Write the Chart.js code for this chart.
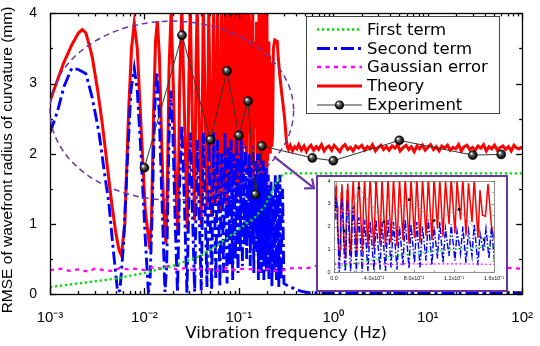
<!DOCTYPE html>
<html><head><meta charset="utf-8">
<script src="https://cdn.jsdelivr.net/npm/chart.js@4.4.1/dist/chart.umd.min.js"></script>
<style>
html,body{margin:0;padding:0;background:#fff;}
#wrap{position:relative;width:540px;height:346px;overflow:hidden;}
#main{position:absolute;left:0;top:0;}
#insetBox{position:absolute;left:316px;top:175px;width:192px;height:117px;box-sizing:border-box;border:2px solid #6b34a6;background:#fff;}
#inset{position:absolute;left:0;top:0;}
</style></head><body>
<div id="wrap">
<canvas id="main" width="540" height="346"></canvas>
<div id="insetBox"><canvas id="inset" width="188" height="113"></canvas></div>
</div>
<script>
// ---------------- DATA ----------------
const SERIES_LABELS = ['First term', 'Second term', 'Gaussian error', 'Theory', 'Experiment'];
const X_TITLE = 'Vibration frequency (Hz)';
const Y_TITLE = 'RMSE of wavefront radius of curvature (mm)';
const X_MAJOR = [0.001, 0.01, 0.1, 1, 10, 100];
const X_LABELS = ['10\u207B\u00B3', '10\u207B\u00B2', '10\u207B\u00B9', '10\u2070', '10\u00B9', '10\u00B2'];
const Y_MAJOR = [0, 1, 2, 3, 4];
const Y_LABELS = ['0', '1', '2', '3', '4'];
const INSET_X_MAJOR = [0, 0.04, 0.08, 0.12, 0.16];
const INSET_X_LABELS = ['0.0', '4.0x10\u207B\u00B2', '8.0x10\u207B\u00B2', '1.2x10\u207B\u00B9', '1.6x10\u207B\u00B9'];

// Experiment
const EXP_F = [0.01, 0.025, 0.05, 0.075, 0.1, 0.125, 0.15, 0.175, 0.6, 1, 5, 30, 60];
const EXP_V = [1.80, 3.69, 2.20, 3.18, 2.26, 2.75, 1.42, 2.11, 1.94, 1.90, 2.19, 1.98, 1.99];

// First term [f, value]
const FIRST = [[0.001,0.1],[0.002,0.15],[0.005,0.22],[0.01,0.3],[0.02,0.4],[0.04,0.55],[0.06,0.7],[0.1,0.92],[0.15,1.1],[0.19,1.26],[0.25,1.6],[0.3,1.72],[1,1.72],[10,1.72],[100,1.72]];

// Gaussian error [f, value]
const GAUSS = [[0.001,0.34],[0.0013,0.36],[0.0016,0.33],[0.002,0.35],[0.0025,0.32],[0.003,0.36],[0.0037,0.34],[0.0045,0.33],[0.0055,0.37],[0.0068,0.35],[0.008,0.36],[0.01,0.34],[0.012,0.38],[0.015,0.36],[0.018,0.4],[0.022,0.35],[0.027,0.37],[0.033,0.34],[0.04,0.36],[0.05,0.35],[0.06,0.33],[0.075,0.37],[0.09,0.34],[0.11,0.36],[0.14,0.35],[0.17,0.33],[0.21,0.36],[0.26,0.32],[0.32,0.35],[0.4,0.38],[0.5,0.36],[0.65,0.4],[0.8,0.37],[1,0.35],[1.3,0.38],[1.7,0.36],[2.2,0.34],[2.8,0.37],[3.6,0.39],[4.6,0.36],[6,0.35],[7.7,0.38],[10,0.36],[13,0.34],[17,0.37],[22,0.35],[28,0.38],[36,0.36],[46,0.34],[60,0.38],[77,0.37],[100,0.36]];

// Second term [f, value]
const SECOND = [[0.001,2.3],[0.0012,2.6],[0.0014,2.95],[0.0017,3.22],[0.002,3.2],[0.0024,3.14],[0.0028,2.8],[0.0033,2.3],[0.0038,1.7],[0.0042,1.3],[0.0047,0.6],[0.0052,0.03],[0.0055,0.05],[0.006,0.7],[0.0066,1.9],[0.0072,2.9],[0.0078,3.22],[0.0084,2.9],[0.0092,2.0],[0.0102,0.8],[0.011,0.03],[0.0114,0.1],[0.0121,1.2],[0.0128,2.6],[0.0135,3.17],[0.0143,2.6],[0.0152,1.5],[0.0165,0.03],[0.0172,0.4],[0.0182,2.2],[0.019,2.9],[0.02,2.3],[0.0212,1.0],[0.0224,0.02],[0.0236,1.6],[0.0249,2.4],[0.0265,1.3],[0.0282,0.02],[0.0306,2.3],[0.034,0.03],[0.0362,2.2],[0.04,0.05],[0.042,2.3],[0.046,0.1],[0.048,2.2],[0.0515,0.05],[0.054,2.3],[0.057,0.2],[0.0595,2.2],[0.063,0.1],[0.0655,2.0],[0.069,0.3],[0.0712,2.3],[0.075,0.15],[0.077,2.1],[0.0805,0.4],[0.0828,2.2],[0.086,0.2],[0.0885,2.0],[0.092,0.5],[0.0943,2.3],[0.098,0.3],[0.1,2.0],[0.1035,0.6],[0.1058,2.2],[0.109,0.4],[0.1115,1.9],[0.115,0.7],[0.1172,2.1],[0.121,0.5],[0.123,1.8],[0.1265,0.8],[0.1288,2.0],[0.132,0.4],[0.1345,1.8],[0.138,0.7],[0.1402,2.1],[0.144,0.3],[0.146,1.7],[0.1495,0.9],[0.152,1.9],[0.155,0.6],[0.1575,2.0],[0.161,0.2],[0.1632,1.8],[0.167,0.5],[0.169,2.0],[0.173,0.3],[0.175,1.7],[0.179,0.6],[0.181,1.9],[0.184,0.2],[0.1865,1.6],[0.19,0.5],[0.192,1.8],[0.196,0.3],[0.198,1.5],[0.202,0.6],[0.205,1.7],[0.208,0.2],[0.211,1.5],[0.215,0.4],[0.219,1.6],[0.224,0.1],[0.23,1.4],[0.236,0.3],[0.243,1.7],[0.25,0.2],[0.258,1.6],[0.265,0.1],[0.272,1.7],[0.28,0.2],[0.29,1.5],[0.3,0.15],[0.35,0.1],[0.45,0.04],[0.55,0.02],[1,0.02],[10,0.02],[100,0.02]];

// Theory [f, value]
const THEORY = [[0.001,2.75],[0.0012,3.05],[0.0014,3.3],[0.0017,3.55],[0.002,3.72],[0.0022,3.77],[0.0024,3.72],[0.0026,3.55],[0.0028,3.38],[0.0032,2.9],[0.0036,2.4],[0.0039,2.0],[0.0045,1.3],[0.005,0.85],[0.0054,0.62],[0.0057,0.55],
[0.0062,1.0],[0.0068,2.6],[0.0073,3.5],[0.0078,3.86],[0.0084,3.5],[0.0092,2.4],[0.0102,1.2],[0.0114,0.64],
[0.0119,1.1],[0.0125,2.6],[0.0131,3.6],[0.0137,3.89],[0.0144,3.4],[0.0152,2.2],[0.016,1.2],[0.0169,0.72],
[0.0175,1.5],[0.0182,3.2],[0.0192,4.05],[0.0202,3.0],[0.0214,1.6],[0.0226,0.84],
[0.0236,3.0],[0.0249,4.1],[0.0265,2.6],[0.0284,0.92],
[0.0295,3.0],[0.0306,4.1],[0.032,2.6],[0.034,1.05],
[0.0352,3.3],[0.0362,4.15],[0.038,2.4],[0.04,1.0],
[0.042,4.2],[0.046,1.2],[0.048,4.1],[0.0515,1.1],[0.054,4.2],[0.057,1.3],[0.0595,4.15],[0.063,1.15],[0.0655,4.1],[0.069,1.4],[0.0712,4.2],[0.075,1.25],[0.077,4.1],[0.0805,1.5],[0.0828,4.2],[0.086,1.3],[0.0885,4.1],[0.092,1.6],[0.0943,4.15],[0.098,1.4],[0.1,4.2],[0.1035,1.9],[0.1058,4.1],[0.109,1.55],[0.1115,4.0],[0.115,2.1],[0.1172,4.15],[0.121,1.7],[0.123,4.0],[0.1265,2.3],[0.1288,4.1],[0.132,1.6],[0.1345,3.9],[0.138,2.2],[0.1402,4.1],[0.144,1.5],[0.146,3.6],[0.1485,2.5],[0.1515,2.45],[0.154,3.88],[0.1575,2.0],[0.16,1.5],[0.1632,4.1],[0.167,1.9],[0.169,4.0],[0.173,1.6],[0.175,4.1],[0.179,2.0],[0.181,4.0],[0.184,1.5],[0.1865,4.1],[0.19,1.7],[0.192,4.0],[0.196,1.45],[0.198,4.1],[0.202,1.9],[0.205,3.6],[0.208,2.0],[0.211,3.4],[0.215,2.0],[0.219,3.3],[0.224,2.1],[0.228,2.3],[0.232,3.5],[0.24,3.62],[0.255,3.6],[0.262,3.35],[0.272,3.1],[0.285,2.85],[0.3,2.6],[0.31,2.4],[0.318,2.2],[0.325,2.1],
[0.335,2.06],[0.35,2.12],[0.37,2.04],[0.39,2.1],[0.41,2.07],[0.43,2.13],[0.46,2.05],[0.49,2.11],[0.52,2.03],[0.55,2.09],[0.58,2.12],[0.62,2.05],[0.66,2.1],[0.7,2.06],[0.75,2.13],[0.8,2.04],[0.85,2.09],[0.9,2.11],[0.96,2.05],[1.02,2.12],[1.1,2.07],[1.17,2.03],[1.25,2.1],[1.33,2.13],[1.42,2.06],[1.52,2.09],[1.62,2.04],[1.73,2.11],[1.85,2.08],[2,2.12],[2.15,2.05],[2.3,2.1],[2.45,2.07],[2.6,2.13],[2.8,2.04],[3,2.09],[3.2,2.12],[3.4,2.06],[3.65,2.1],[3.9,2.05],[4.2,2.11],[4.5,2.08],[4.8,2.13],[5.1,2.04],[5.5,2.09],[5.9,2.12],[6.3,2.06],[6.7,2.1],[7.2,2.03],[7.7,2.11],[8.2,2.07],[8.8,2.12],[9.4,2.05],[10,2.09],[10.7,2.13],[11.5,2.06],[12.3,2.1],[13.2,2.04],[14.1,2.11],[15.1,2.08],[16.2,2.12],[17.3,2.05],[18.5,2.09],[19.8,2.07],[21.2,2.13],[22.7,2.04],[24.3,2.1],[26,2.12],[27.8,2.06],[29.8,2.09],[31.9,2.05],[34.1,2.11],[36.5,2.08],[39,2.13],[41.7,2.04],[44.6,2.1],[47.7,2.07],[51,2.12],[54.6,2.05],[58.4,2.09],[62.5,2.11],[66.8,2.06],[71.5,2.1],[76.5,2.04],[81.8,2.12],[87.5,2.08],[93.6,2.07],[100,2.1]];

// Highlight ellipse (data coords: f range, value range) and arrow (from -> to)
const ELLIPSE_F = [0.001, 0.38];
const ELLIPSE_V = [1.34, 3.89];
const ARROW_F = [0.2395, 0.625];
const ARROW_V = [1.95, 1.51];

// ---------------- helpers ----------------
const toXY = pts => pts.map(p => ({x: p[0], y: p[1]}));
const EXP = EXP_F.map((f, i) => ({x: f, y: EXP_V[i]}));
const PURPLE = '#6b34a6';

function ballFill(r) {
  return (c) => {
    const ch = c.chart;
    if (c.type !== 'data' || !ch.scales.x || !c.parsed) return '#000';
    const x = ch.scales.x.getPixelForValue(c.parsed.x);
    const y = ch.scales.y.getPixelForValue(c.parsed.y);
    if (!isFinite(x) || !isFinite(y)) return '#000';
    const g = ch.ctx.createRadialGradient(x - r * 0.35, y - r * 0.38, r * 0.08, x, y, r * 1.05);
    g.addColorStop(0, '#ffffff');
    g.addColorStop(0.3, '#6a6a6a');
    g.addColorStop(0.75, '#111');
    g.addColorStop(1, '#000');
    return g;
  };
}

function makeDatasets(s) {
  return [
    {label: SERIES_LABELS[0], data: toXY(FIRST), borderColor: '#00e000', borderWidth: 2.3*s, borderDash: [2.3*s, 2.7*s], pointRadius: 0, order: 1},
    {label: SERIES_LABELS[1], data: toXY(SECOND), borderColor: '#0000ff', borderWidth: 2.9*s, borderDash: [13*s, 4*s, 3*s, 4*s], pointRadius: 0, order: 3},
    {label: SERIES_LABELS[2], data: toXY(GAUSS), borderColor: '#ff00ff', borderWidth: 2.3*s, borderDash: [4*s, 4.5*s], pointRadius: 0, order: 2},
    {label: SERIES_LABELS[3], data: toXY(THEORY), borderColor: '#ff0000', borderWidth: 3*s, pointRadius: 0, order: 4},
    {label: SERIES_LABELS[4], data: EXP, borderColor: s < 1 ? '#888' : '#333', borderWidth: s < 1 ? 0.7 : 1, pointRadius: s < 1 ? 1.4 : 4.6,
     pointBackgroundColor: s < 1 ? '#000' : ballFill(4.6), pointBorderColor: '#000', pointBorderWidth: s < 1 ? 0 : 0.4, order: 0}
  ];
}

// frame + inward ticks (+ optional small tick labels for the inset)
const framePlugin = {
  id: 'frame',
  afterDatasetsDraw(chart, args, o) {
    const {ctx, chartArea: a, scales} = chart;
    ctx.save();
    ctx.setLineDash([]);
    ctx.strokeStyle = o.color; ctx.lineWidth = o.width;
    const seg = (x1, y1, x2, y2) => { ctx.beginPath(); ctx.moveTo(x1, y1); ctx.lineTo(x2, y2); ctx.stroke(); };
    scales.x.ticks.forEach(t => {
      const x = Math.round(scales.x.getPixelForValue(t.value)) + 0.5;
      const L = t.major ? o.major : o.minor;
      seg(x, a.bottom, x, a.bottom - L); seg(x, a.top, x, a.top + L);
    });
    scales.y.ticks.forEach(t => {
      const y = Math.round(scales.y.getPixelForValue(t.value)) + 0.5;
      const L = t.major ? o.major : o.minor;
      seg(a.left, y, a.left + L, y); seg(a.right, y, a.right - L, y);
    });
    ctx.strokeRect(Math.round(a.left) + 0.5, Math.round(a.top) + 0.5, Math.round(a.right - a.left), Math.round(a.bottom - a.top));
    if (o.labels) {
      ctx.fillStyle = '#111';
      ctx.font = o.labels.font;
      ctx.textBaseline = 'middle';
      ctx.textAlign = 'center';
      o.labels.xValues.forEach((v, i) => ctx.fillText(o.labels.xText[i], scales.x.getPixelForValue(v), a.bottom + o.labels.xGap));
      ctx.textAlign = 'right';
      o.labels.yValues.forEach((v, i) => ctx.fillText(o.labels.yText[i], a.left - o.labels.yGap, scales.y.getPixelForValue(v)));
    }
    ctx.restore();
  }
};

// y title, ellipse, arrow and legend on the main chart
const overlayPlugin = {
  id: 'overlay',
  afterDraw(chart) {
    const {ctx, scales} = chart;
    const X = v => scales.x.getPixelForValue(v), Y = v => scales.y.getPixelForValue(v);
    ctx.save();
    // y axis title
    ctx.save();
    ctx.translate(8, 160);
    ctx.rotate(-Math.PI / 2);
    ctx.fillStyle = '#000'; ctx.font = '15.5px "Liberation Sans", Arial';
    ctx.textAlign = 'center'; ctx.textBaseline = 'middle';
    ctx.fillText(Y_TITLE, 0, 0);
    ctx.restore();
    // ellipse
    const x1 = X(ELLIPSE_F[0]), x2 = X(ELLIPSE_F[1]), y1 = Y(ELLIPSE_V[1]), y2 = Y(ELLIPSE_V[0]);
    ctx.strokeStyle = PURPLE; ctx.lineWidth = 1.5; ctx.setLineDash([6, 4]);
    ctx.beginPath();
    ctx.ellipse((x1 + x2) / 2, (y1 + y2) / 2, (x2 - x1) / 2, (y2 - y1) / 2, 0, 0, Math.PI * 2);
    ctx.stroke();
    // arrow
    ctx.setLineDash([]); ctx.lineWidth = 2.2; ctx.lineCap = 'round';
    const ax = X(ARROW_F[0]), ay = Y(ARROW_V[0]), bx = X(ARROW_F[1]), by = Y(ARROW_V[1]);
    ctx.beginPath(); ctx.moveTo(ax, ay); ctx.lineTo(bx, by); ctx.stroke();
    const ang = Math.atan2(by - ay, bx - ax);
    ctx.beginPath();
    ctx.moveTo(bx + 9 * Math.cos(ang + Math.PI - 0.7), by + 9 * Math.sin(ang + Math.PI - 0.7));
    ctx.lineTo(bx, by);
    ctx.lineTo(bx + 9 * Math.cos(ang + Math.PI + 0.7), by + 9 * Math.sin(ang + Math.PI + 0.7));
    ctx.stroke();
    ctx.lineCap = 'butt';
    // legend
    const box = {l: 306.5, t: 16.5, w: 193, h: 97};
    ctx.fillStyle = '#fff'; ctx.fillRect(box.l, box.t, box.w, box.h);
    ctx.strokeStyle = '#444'; ctx.lineWidth = 1; ctx.strokeRect(box.l, box.t, box.w, box.h);
    const rows = [29.5, 48.5, 67, 86, 105];
    chart.data.datasets.forEach((ds, i) => {
      const y = rows[i];
      ctx.strokeStyle = ds.borderColor; ctx.lineWidth = ds.borderWidth;
      ctx.setLineDash(ds.borderDash || []);
      ctx.beginPath(); ctx.moveTo(317, y); ctx.lineTo(362, y); ctx.stroke();
      ctx.setLineDash([]);
      if (ds.pointRadius) {
        const g = ctx.createRadialGradient(339.5 - 1.6, y - 1.7, 0.4, 339.5, y, 4.8);
        g.addColorStop(0, '#fff'); g.addColorStop(0.3, '#6a6a6a'); g.addColorStop(0.75, '#111'); g.addColorStop(1, '#000');
        ctx.fillStyle = g; ctx.beginPath(); ctx.arc(339.5, y, 4.6, 0, Math.PI * 2); ctx.fill();
      }
      ctx.fillStyle = '#000'; ctx.font = '16.5px "DejaVu Sans"'; ctx.textBaseline = 'middle'; ctx.textAlign = 'left';
      ctx.fillText(ds.label, 367, y + 1);
    });
    ctx.restore();
  }
};

// ---------------- MAIN CHART ----------------
new Chart(document.getElementById('main'), {
  type: 'line',
  data: {datasets: makeDatasets(1)},
  options: {
    responsive: false, animation: false, devicePixelRatio: 1,
    layout: {padding: {top: 5, right: 13, left: 0, bottom: 0}},
    elements: {line: {tension: 0}},
    scales: {
      x: {
        type: 'logarithmic', min: 0.001, max: 100,
        afterFit: s => { s.height = 52; },
        afterBuildTicks: s => {
          const t = [];
          X_MAJOR.forEach((m, i) => {
            t.push({value: m, major: true});
            if (i < X_MAJOR.length - 1) for (let k = 2; k <= 9; k++) t.push({value: m * k, major: false});
          });
          s.ticks = t;
        },
        ticks: {
          autoSkip: false, maxRotation: 0, minRotation: 0, padding: 7, color: '#000',
          font: {family: '"Liberation Sans", Arial', size: 15},
          callback: (v) => { const j = X_MAJOR.findIndex(m => Math.abs(m - v) / m < 1e-6); return j >= 0 ? X_LABELS[j] : ''; }
        },
        grid: {display: false}, border: {display: false},
        title: {display: true, text: X_TITLE, color: '#000', font: {family: '"DejaVu Sans"', size: 16.5, lineHeight: 1.2}, padding: {top: 0, bottom: 2}}
      },
      y: {
        min: 0, max: 4,
        afterFit: s => { s.width = 50; },
        afterBuildTicks: s => {
          const t = [];
          for (let i = 0; i < Y_MAJOR.length; i++) {
            t.push({value: Y_MAJOR[i], major: true});
            if (i < Y_MAJOR.length - 1) t.push({value: Y_MAJOR[i] + 0.5, major: false});
          }
          s.ticks = t;
        },
        ticks: {
          autoSkip: false, padding: 5, color: '#000',
          font: {family: '"Liberation Sans", Arial', size: 14},
          callback: (v) => { const j = Y_MAJOR.indexOf(v); return j >= 0 ? Y_LABELS[j] : ''; }
        },
        grid: {display: false}, border: {display: false},
        title: {display: false, text: Y_TITLE}
      }
    },
    plugins: {
      legend: {display: false}, tooltip: {enabled: false},
      frame: {color: '#000', width: 1.3, major: 6, minor: 3}
    }
  },
  plugins: [framePlugin, overlayPlugin]
});

// ---------------- INSET CHART ----------------
new Chart(document.getElementById('inset'), {
  type: 'line',
  data: {datasets: makeDatasets(0.5)},
  options: {
    responsive: false, animation: false, devicePixelRatio: 1,
    layout: {padding: {top: 3, right: 12, left: 8, bottom: 10}},
    elements: {line: {tension: 0}},
    scales: {
      x: {
        type: 'linear', min: 0, max: 0.16,
        afterBuildTicks: s => {
          const t = [];
          INSET_X_MAJOR.forEach((m, i) => {
            t.push({value: m, major: true});
            if (i < INSET_X_MAJOR.length - 1) t.push({value: m + 0.02, major: false});
          });
          s.ticks = t;
        },
        ticks: {display: false},
        grid: {display: false}, border: {display: false}
      },
      y: {
        min: 0, max: 4,
        afterBuildTicks: s => {
          const t = [];
          for (let i = 0; i < Y_MAJOR.length; i++) {
            t.push({value: Y_MAJOR[i], major: true});
            if (i < Y_MAJOR.length - 1) t.push({value: Y_MAJOR[i] + 0.5, major: false});
          }
          s.ticks = t;
        },
        ticks: {display: false},
        grid: {display: false}, border: {display: false}
      }
    },
    plugins: {
      legend: {display: false}, tooltip: {enabled: false},
      frame: {color: '#777', width: 0.8, major: 2.5, minor: 1.5,
        labels: {font: '5.5px "Liberation Sans", Arial', xValues: INSET_X_MAJOR, xText: INSET_X_LABELS, xGap: 6,
                 yValues: Y_MAJOR, yText: Y_LABELS, yGap: 3.5}}
    }
  },
  plugins: [framePlugin]
});
</script>
</body></html>
